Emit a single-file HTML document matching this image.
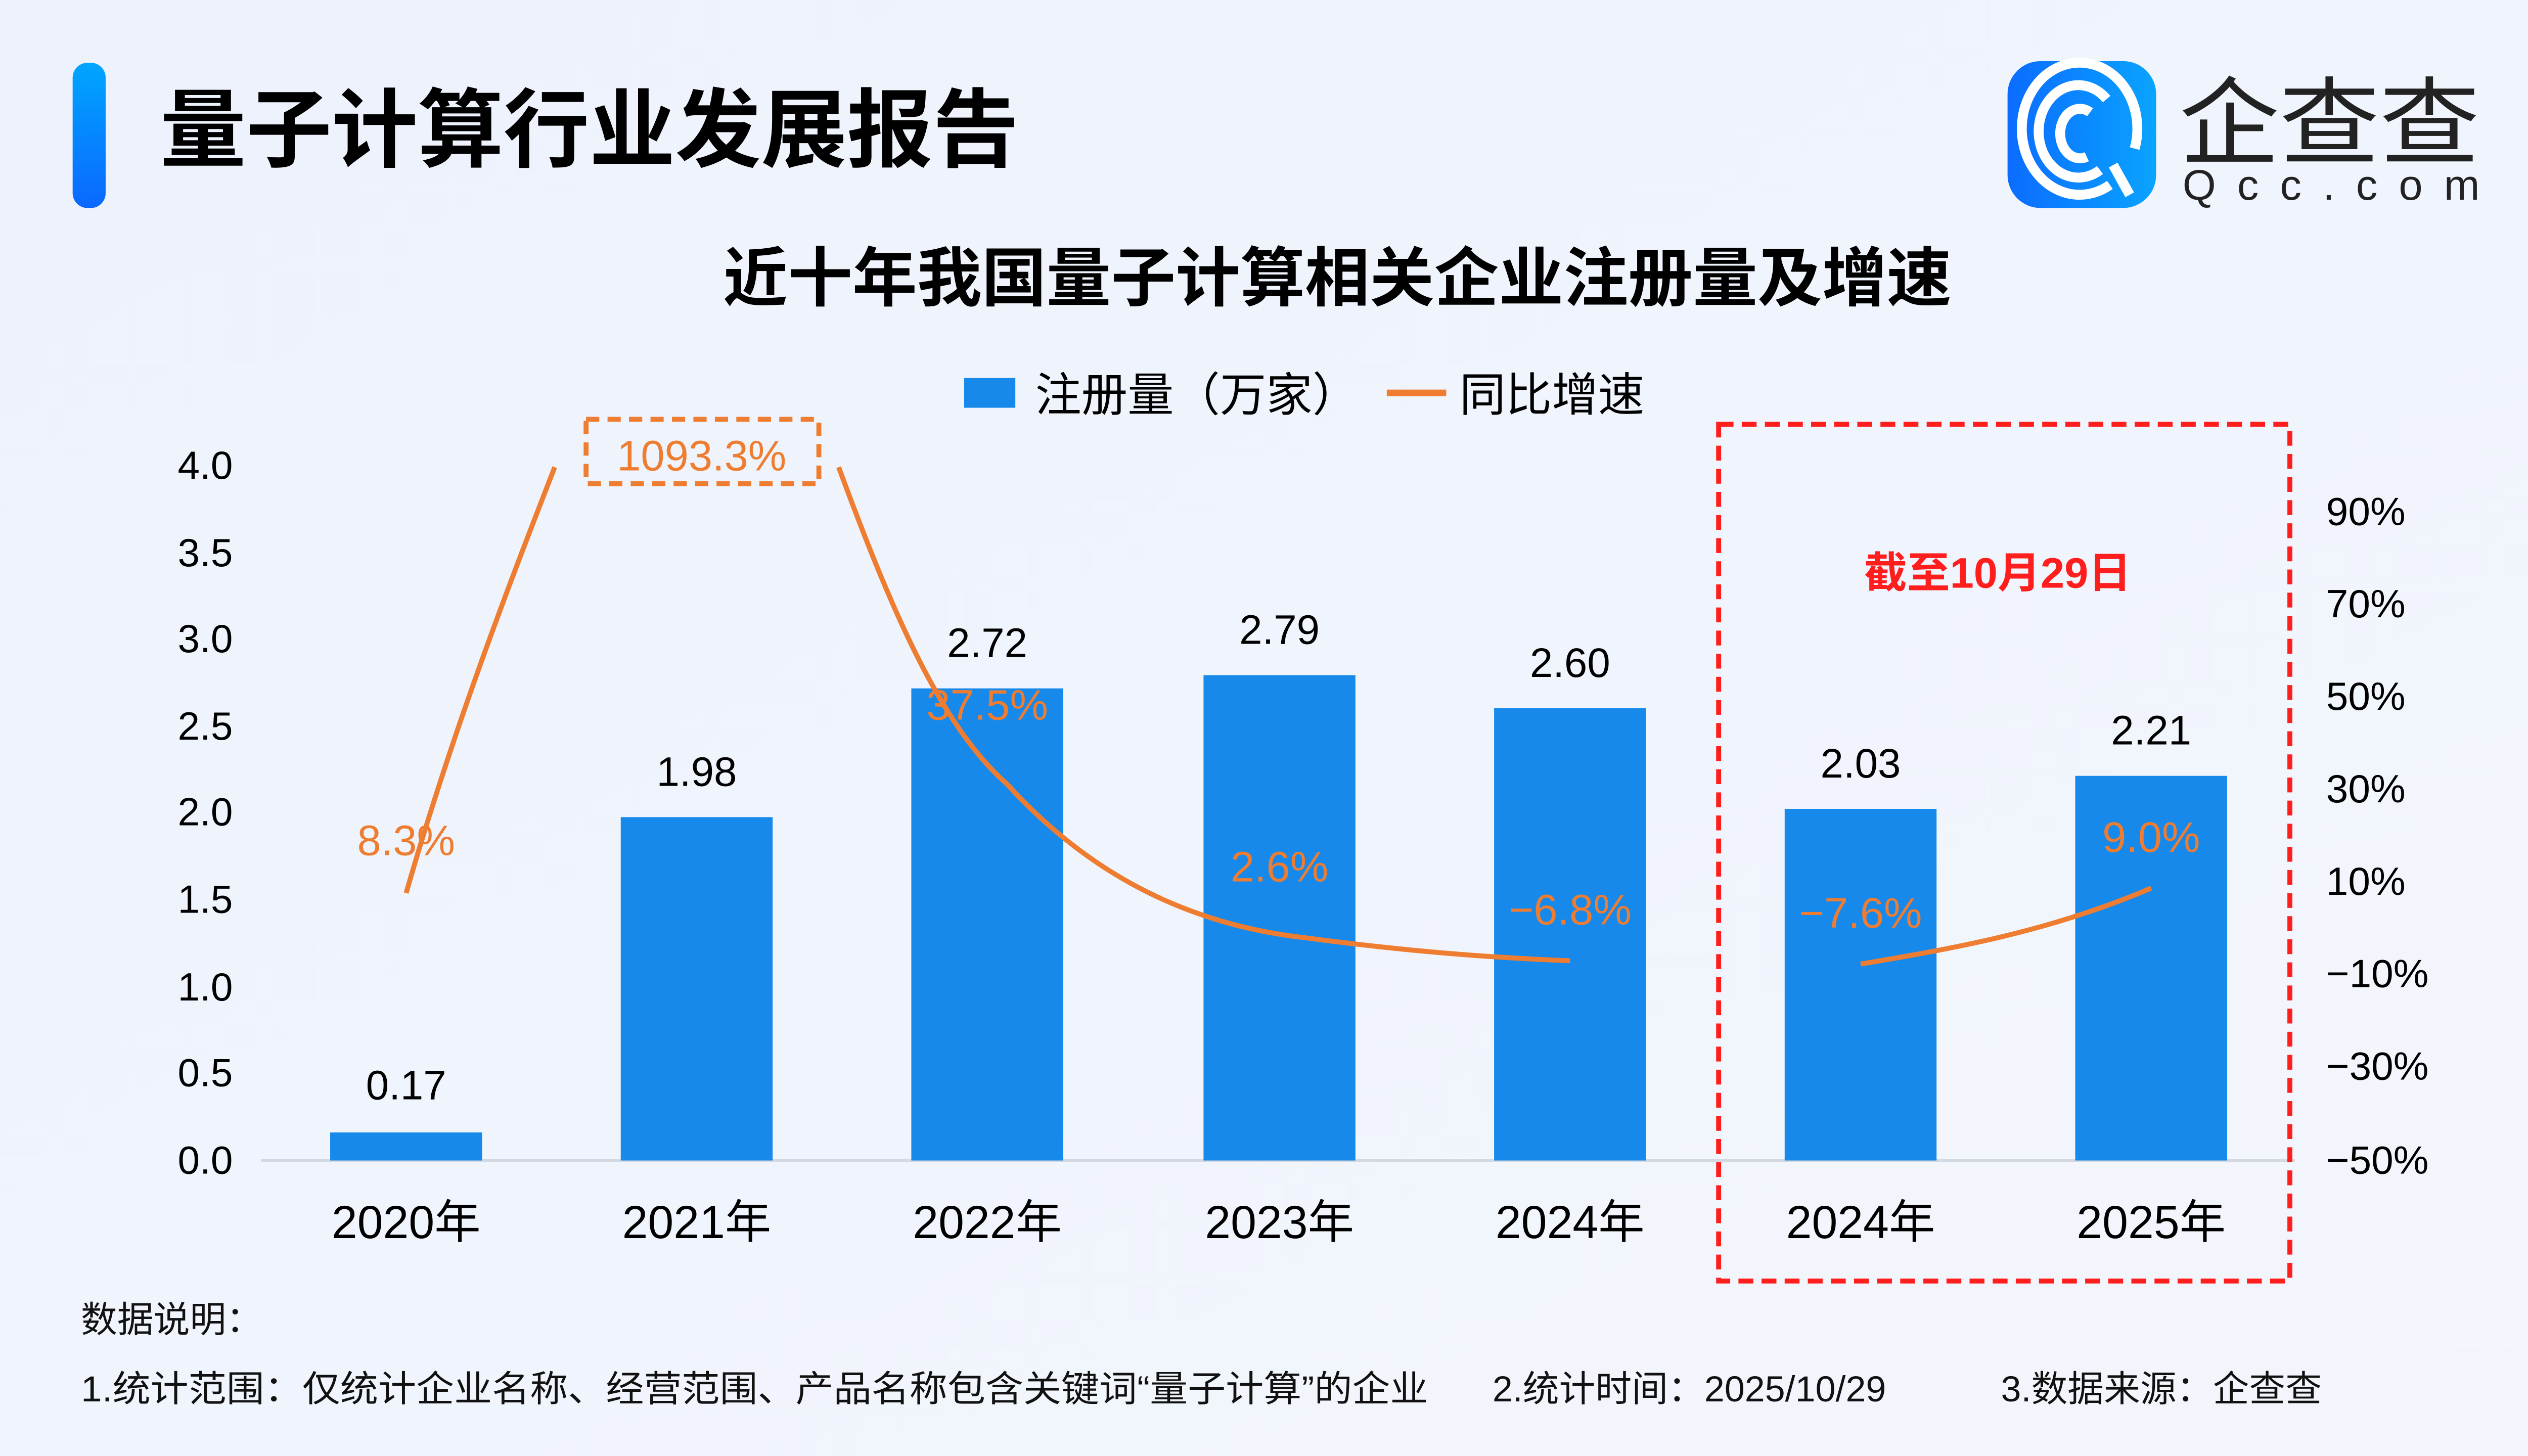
<!DOCTYPE html>
<html><head><meta charset="utf-8"><style>
html,body{margin:0;padding:0;width:5120px;height:2880px;overflow:hidden;background:#eef3fc}
svg{display:block}
text{font-family:"Liberation Sans","Noto Sans CJK SC",sans-serif}
</style></head><body>
<svg width="5120" height="2880" viewBox="0 0 1568 882" xmlns="http://www.w3.org/2000/svg">
<defs>
<linearGradient id="bg" x1="0" y1="0" x2="1" y2="1"><stop offset="0" stop-color="#edf2fc"/><stop offset="1" stop-color="#f3f6fc"/></linearGradient>
<linearGradient id="bar" x1="0" y1="0" x2="0" y2="1"><stop offset="0" stop-color="#00a6ff"/><stop offset="1" stop-color="#0a68ff"/></linearGradient>
<linearGradient id="logo" x1="0" y1="0" x2="1" y2="0"><stop offset="0" stop-color="#0b6cff"/><stop offset="1" stop-color="#0aa4ff"/></linearGradient>
</defs>
<rect width="1568" height="882" fill="url(#bg)"/>
<rect x="44" y="38" width="20" height="88" rx="9" fill="url(#bar)"/>
<text x="97" y="97" font-size="52" font-weight="bold" fill="#000" textLength="520" lengthAdjust="spacingAndGlyphs">量子计算行业发展报告</text>
<!-- logo -->
<rect x="1216" y="37" width="90" height="89" rx="20" fill="url(#logo)"/>
<g fill="none" stroke="#fff" stroke-width="6">
<path d="M1278,112 A35,40 0 1 1 1293,90"/>
<path d="M1272,103 A24,28 0 1 1 1276,60"/>
<path d="M1264,95 A12,15 0 1 1 1266,68"/>
<path d="M1280,100 L1290,118"/>
</g>
<text x="1320" y="95" font-size="58" fill="#222" textLength="182" lengthAdjust="spacingAndGlyphs">企查查</text>
<text x="1322" y="121" font-size="26" fill="#222" textLength="180" lengthAdjust="spacing">Qcc.com</text>
<text x="810" y="182" font-size="39" font-weight="bold" text-anchor="middle" fill="#000" textLength="744" lengthAdjust="spacingAndGlyphs">近十年我国量子计算相关企业注册量及增速</text>
<!-- legend -->
<rect x="584" y="229" width="31" height="18" fill="#1689ea"/>
<text x="627" y="249" font-size="28" fill="#000">注册量（万家）</text>
<line x1="840" y1="238" x2="876" y2="238" stroke="#ee7d31" stroke-width="4"/>
<text x="884" y="249" font-size="28" fill="#000">同比增速</text>
<!-- left axis -->
<g font-size="24" fill="#000" text-anchor="end">
<text x="141" y="290">4.0</text><text x="141" y="343">3.5</text><text x="141" y="395">3.0</text>
<text x="141" y="448">2.5</text><text x="141" y="500">2.0</text><text x="141" y="553">1.5</text>
<text x="141" y="606">1.0</text><text x="141" y="658">0.5</text><text x="141" y="711">0.0</text>
</g>
<g font-size="24" fill="#000">
<text x="1409" y="318">90%</text><text x="1409" y="374">70%</text><text x="1409" y="430">50%</text>
<text x="1409" y="486">30%</text><text x="1409" y="542">10%</text><text x="1409" y="598">−10%</text>
<text x="1409" y="654">−30%</text><text x="1409" y="711">−50%</text>
</g>
<line x1="158" y1="703" x2="1390" y2="703" stroke="#d4d8e0" stroke-width="1.5"/>
<!-- bars -->
<g fill="#1689ea">
<rect x="200" y="686" width="92" height="17"/>
<rect x="376" y="495" width="92" height="208"/>
<rect x="552" y="417" width="92" height="286"/>
<rect x="729" y="409" width="92" height="294"/>
<rect x="905" y="429" width="92" height="274"/>
<rect x="1081" y="490" width="92" height="213"/>
<rect x="1257" y="470" width="92" height="233"/>
</g>
<g font-size="25" fill="#000" text-anchor="middle">
<text x="246" y="666">0.17</text><text x="422" y="476">1.98</text><text x="598" y="398">2.72</text>
<text x="775" y="390">2.79</text><text x="951" y="410">2.60</text><text x="1127" y="471">2.03</text><text x="1303" y="451">2.21</text>
</g>
<!-- line -->
<g fill="none" stroke="#ee7d31" stroke-width="3">
<path d="M246,541 C275,440 310,350 336,283"/>
<path d="M508,283 C540,370 570,440 610,475 C660,530 720,560 790,568 C850,576 900,580 951,582"/>
<path d="M1127,584 C1180,575 1240,565 1303,538"/>
</g>
<rect x="355" y="254" width="141" height="39" fill="none" stroke="#ee7d31" stroke-width="3" stroke-dasharray="8,5"/>
<g font-size="26" fill="#ee7d31" text-anchor="middle">
<text x="425" y="285">1093.3%</text>
<text x="246" y="518">8.3%</text><text x="598" y="436">37.5%</text><text x="775" y="534">2.6%</text>
<text x="951" y="560">−6.8%</text><text x="1127" y="562">−7.6%</text><text x="1303" y="516">9.0%</text>
</g>
<g font-size="28" fill="#000" text-anchor="middle">
<text x="246" y="750">2020年</text><text x="422" y="750">2021年</text><text x="598" y="750">2022年</text>
<text x="775" y="750">2023年</text><text x="951" y="750">2024年</text><text x="1127" y="750">2024年</text><text x="1303" y="750">2025年</text>
</g>
<rect x="1041" y="257" width="346" height="519" fill="none" stroke="#ff1e1e" stroke-width="3" stroke-dasharray="9,5"/>
<text x="1210" y="356" font-size="26" font-weight="bold" fill="#ff1e1e" text-anchor="middle">截至10月29日</text>
<text x="49" y="807" font-size="22" fill="#111">数据说明：</text>
<text x="49" y="849" font-size="22" fill="#111" textLength="816" lengthAdjust="spacingAndGlyphs">1.统计范围：仅统计企业名称、经营范围、产品名称包含关键词“量子计算”的企业</text>
<text x="904" y="849" font-size="22" fill="#111">2.统计时间：2025/10/29</text>
<text x="1212" y="849" font-size="22" fill="#111">3.数据来源：企查查</text>
</svg>
</body></html>
